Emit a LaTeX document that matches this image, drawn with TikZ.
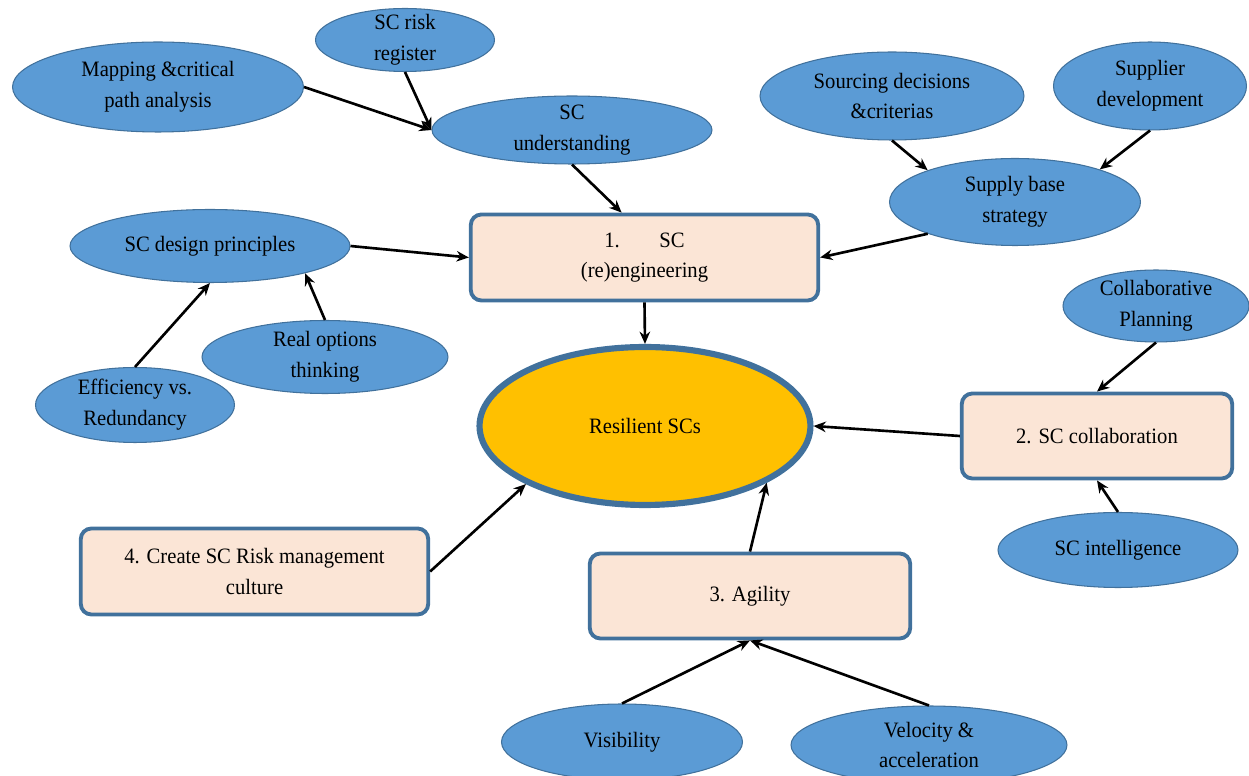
\documentclass[tikz,border=0pt]{standalone}
\usepackage{fontspec}
\setmainfont{Liberation Serif}[FakeStretch=0.94]
\usepackage{tikz}
\usetikzlibrary{shapes.geometric,arrows.meta}

\definecolor{ovalblue}{HTML}{5B9BD5}
\definecolor{edgeblue}{HTML}{41719C}
\definecolor{boxpeach}{HTML}{FBE5D6}
\definecolor{goldfill}{HTML}{FFC000}

\tikzset{
  topic/.style={ellipse, draw=edgeblue, line width=0.6pt, fill=ovalblue, inner xsep=0pt, inner ysep=-3pt, align=center, font=\fontsize{12.5}{17.5}\selectfont},
  pillar/.style={rectangle, rounded corners=6pt, draw=edgeblue, line width=2.2pt, fill=boxpeach, inner sep=0pt, align=center, font=\fontsize{12.5}{17.5}\selectfont},
  goal/.style={ellipse, draw=edgeblue, line width=3.5pt, fill=goldfill, inner sep=0pt, align=center, font=\fontsize{12.5}{17.5}\selectfont},
  link/.style={-{Stealth[length=7pt,width=6pt]}, line width=1.5pt}
}

\begin{document}
\begin{tikzpicture}[x=0.02cm, y=-0.02cm]
\useasboundingbox (0,0) rectangle (1249,776);
\node[topic, minimum width=5.82cm, minimum height=1.8cm] (mapping) at (158,87) {Mapping \&critical\\path analysis};
\node[topic, minimum width=3.58cm, minimum height=1.26cm] (riskreg) at (405,40) {SC risk\\register};
\node[topic, minimum width=5.6cm, minimum height=1.36cm] (scund) at (572,130) {SC\\understanding};
\node[topic, minimum width=5.28cm, minimum height=1.76cm] (sourcing) at (892,96) {Sourcing decisions\\\&criterias};
\node[topic, minimum width=3.86cm, minimum height=1.76cm] (suppdev) at (1150,86) {Supplier\\development};
\node[topic, minimum width=5.02cm, minimum height=1.74cm] (supbase) at (1015,202) {Supply base\\strategy};
\node[topic, minimum width=5.6cm, minimum height=1.46cm] (design) at (210,246) {SC design principles};
\node[topic, minimum width=4.92cm, minimum height=1.46cm] (realopt) at (325,357) {Real options\\thinking};
\node[topic, minimum width=3.98cm, minimum height=1.5cm] (effred) at (135,405) {Efficiency vs.\\Redundancy};
\node[topic, minimum width=3.72cm, minimum height=1.44cm] (collplan) at (1156,306) {Collaborative\\Planning};
\node[topic, minimum width=4.8cm, minimum height=1.5cm] (intel) at (1118,550) {SC intelligence};
\node[topic, minimum width=4.82cm, minimum height=1.52cm] (visib) at (622,742) {Visibility};
\node[topic, minimum width=5.52cm, minimum height=1.56cm] (veloc) at (929,745) {Velocity \&\\acceleration};

\node[pillar, minimum width=6.95cm, minimum height=1.72cm] (reeng) at (644.5,257.5) {1.\hspace{1.8em}SC\\(re)engineering};
\node[pillar, minimum width=5.41cm, minimum height=1.7cm] (collab) at (1097,436) {2. SC collaboration};
\node[pillar, minimum width=6.41cm, minimum height=1.7cm] (agility) at (750,596) {3. Agility};
\node[pillar, minimum width=6.95cm, minimum height=1.72cm] (riskcult) at (254.5,571.5) {4. Create SC Risk management\\culture};

\node[goal, minimum width=6.62cm, minimum height=3.16cm] (resil) at (645,426) {Resilient SCs};

\draw[link] (mapping.east) -- (scund.west);
\draw[link] (riskreg.south) -- (scund.west);
\draw[link] (scund.south) -- (reeng.117);
\draw[link] (sourcing.south) -- (supbase.160);
\draw[link] (suppdev.south) -- (supbase.21);
\draw[link] (supbase.200) -- (reeng.east);
\draw[link] (design.east) -- (reeng.west);
\draw[link] (effred.north) -- (design.south);
\draw[link] (realopt.north) -- (design.-16);
\draw[link] (reeng.south) -- (resil.north);
\draw[link] (collab.west) -- (resil.east);
\draw[link] (collplan.south) -- (collab.north);
\draw[link] (intel.north) -- (collab.south);
\draw[link] (agility.north) -- (resil.-25);
\draw[link] (riskcult.east) -- (resil.206);
\draw[link] (visib.north) -- (agility.south);
\draw[link] (veloc.north) -- (agility.south);
\end{tikzpicture}
\end{document}
